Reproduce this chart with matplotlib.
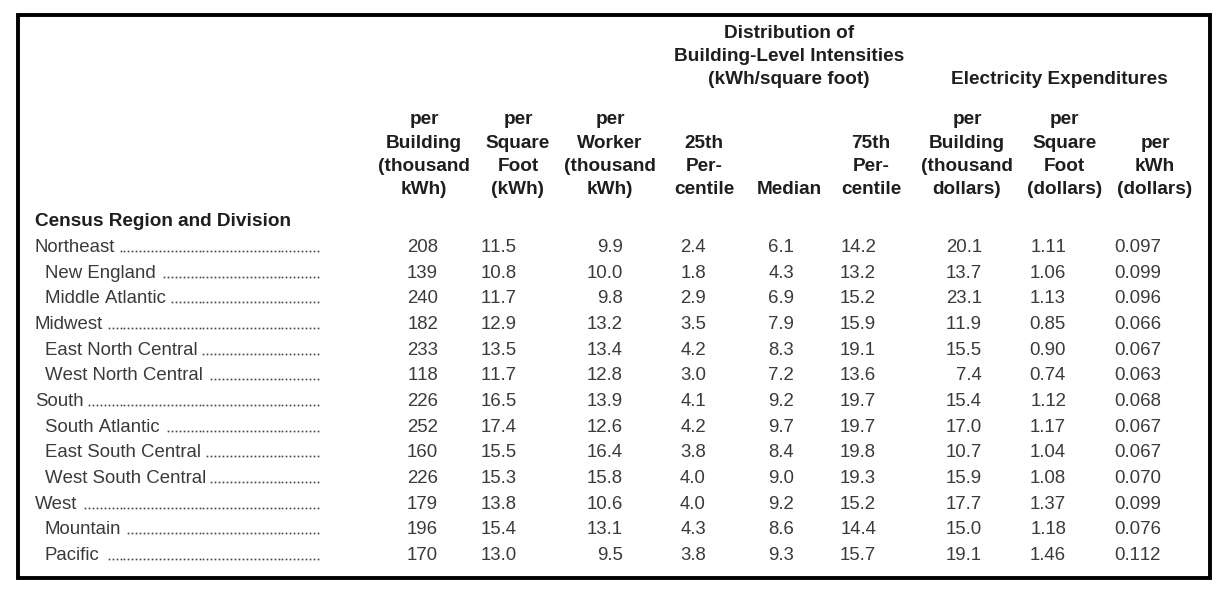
import matplotlib
matplotlib.use("Agg")
import matplotlib.pyplot as plt
from matplotlib.patches import Rectangle

plt.rcParams["text.kerning_factor"] = 6

# ---------------- data ----------------
regions = ["Northeast", "New England", "Middle Atlantic",
           "Midwest", "East North Central", "West North Central",
           "South", "South Atlantic", "East South Central", "West South Central",
           "West", "Mountain", "Pacific"]
is_division = [False, True, True, False, True, True, False, True, True, True, False, True, True]

per_building_kwh = [208, 139, 240, 182, 233, 118, 226, 252, 160, 226, 179, 196, 170]
per_sqft_kwh = [11.5, 10.8, 11.7, 12.9, 13.5, 11.7, 16.5, 17.4, 15.5, 15.3, 13.8, 15.4, 13.0]
per_worker_kwh = [9.9, 10.0, 9.8, 13.2, 13.4, 12.8, 13.9, 12.6, 16.4, 15.8, 10.6, 13.1, 9.5]
pct25 = [2.4, 1.8, 2.9, 3.5, 4.2, 3.0, 4.1, 4.2, 3.8, 4.0, 4.0, 4.3, 3.8]
median = [6.1, 4.3, 6.9, 7.9, 8.3, 7.2, 9.2, 9.7, 8.4, 9.0, 9.2, 8.6, 9.3]
pct75 = [14.2, 13.2, 15.2, 15.9, 19.1, 13.6, 19.7, 19.7, 19.8, 19.3, 15.2, 14.4, 15.7]
exp_per_building = [20.1, 13.7, 23.1, 11.9, 15.5, 7.4, 15.4, 17.0, 10.7, 15.9, 17.7, 15.0, 19.1]
exp_per_sqft = [1.11, 1.06, 1.13, 0.85, 0.90, 0.74, 1.12, 1.17, 1.04, 1.08, 1.37, 1.18, 1.46]
exp_per_kwh = [0.097, 0.099, 0.096, 0.066, 0.067, 0.063, 0.068, 0.067, 0.067, 0.070, 0.099, 0.076, 0.112]

columns = [per_building_kwh, per_sqft_kwh, per_worker_kwh, pct25, median, pct75,
           exp_per_building, exp_per_sqft, exp_per_kwh]
decimals = [0, 1, 1, 1, 1, 1, 1, 2, 3]

col_headers = [
    ["per", "Building", "(thousand", "kWh)"],
    ["per", "Square", "Foot", "(kWh)"],
    ["per", "Worker", "(thousand", "kWh)"],
    ["25th", "Per-", "centile"],
    ["Median"],
    ["75th", "Per-", "centile"],
    ["per", "Building", "(thousand", "dollars)"],
    ["per", "Square", "Foot", "(dollars)"],
    ["per", "kWh", "(dollars)"],
]
group1_header = ["Distribution of", "Building-Level Intensities", "(kWh/square foot)"]
group2_header = "Electricity Expenditures"
stub_header = "Census Region and Division"

# ---------------- layout ----------------
W, H = 1227, 592
fig = plt.figure(figsize=(W / 100, H / 100), dpi=100)
ax = fig.add_axes([0, 0, 1, 1])
ax.set_xlim(0, W)
ax.set_ylim(H, 0)
ax.axis("off")

FONT = "Liberation Sans"
body_fs = 13.4
head_fs = 13.7
body_col = "#3a3a3a"
head_col = "#1e1e1e"

col_center = [424, 518, 610, 704, 789, 871, 967, 1064.5, 1155]
col_right = [438, 517, 623, 706, 794, 876, 982, 1066, 1161]

head_baselines = [124, 147.5, 171, 194.5]
row0 = 252
row_step = 25.67

# border
ax.add_patch(Rectangle((17.5, 14.5), 1192, 563, fill=False, ec="black", lw=2.8))

# group headers
for i, line in enumerate(group1_header):
    ax.text(789, [38, 61, 84.5][i], line, ha="center", va="baseline",
            fontsize=head_fs, fontweight="bold", family=FONT, color=head_col)
ax.text(1059.5, 84.5, group2_header, ha="center", va="baseline",
        fontsize=head_fs, fontweight="bold", family=FONT, color=head_col)

# column headers (bottom aligned)
for c, lines in enumerate(col_headers):
    offs = 4 - len(lines)
    for k, line in enumerate(lines):
        ax.text(col_center[c], head_baselines[offs + k], line, ha="center", va="baseline",
                fontsize=head_fs, fontweight="bold", family=FONT, color=head_col)

ax.text(35, 226, stub_header, ha="left", va="baseline", fontsize=head_fs,
        fontweight="bold", family=FONT, color=head_col)

# rows
label_texts = []
for r, name in enumerate(regions):
    y = row0 + r * row_step
    x0 = 45 if is_division[r] else 35
    t = ax.text(x0, y, name, ha="left", va="baseline", fontsize=body_fs,
                family=FONT, color=body_col)
    label_texts.append((t, y))
    for c, vals in enumerate(columns):
        ax.text(col_right[c], y, f"{vals[r]:.{decimals[c]}f}", ha="right", va="baseline",
                fontsize=body_fs, family=FONT, color=body_col)

# dot leaders
fig.canvas.draw()
renderer = fig.canvas.get_renderer()
inv = ax.transData.inverted()
for t, y in label_texts:
    bb = t.get_window_extent(renderer)
    xend = inv.transform((bb.x1, bb.y0))[0]
    xs = []
    x = 318.0
    while x >= xend + 5:
        xs.append(x)
        x -= 3.95
    ax.plot(xs, [y - 1.0] * len(xs), linestyle="none", marker="s", ms=1.2,
            mec="none", mfc="#404040")

fig.savefig("out.png", dpi=100)
